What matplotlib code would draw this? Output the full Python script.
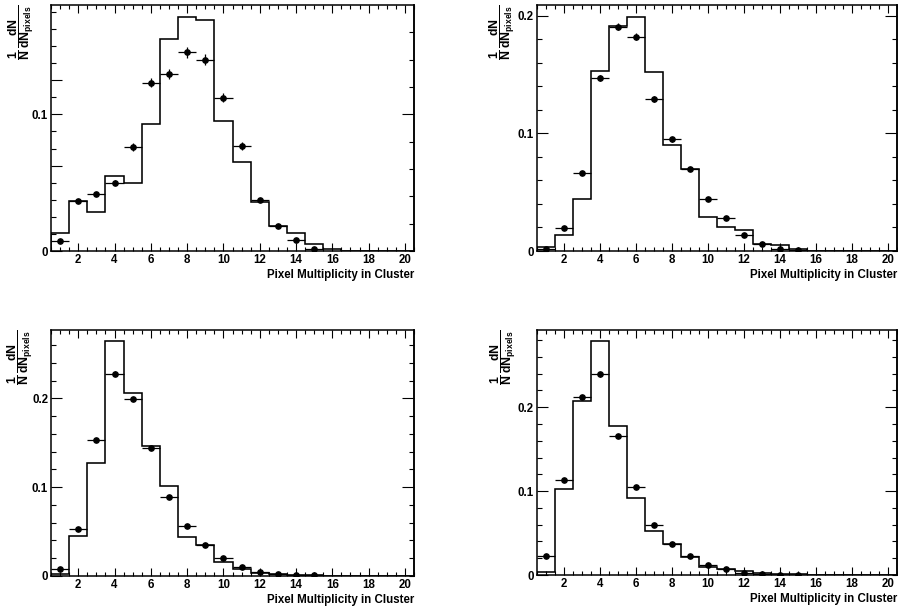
import numpy as np
import matplotlib
matplotlib.use("Agg")
import matplotlib.pyplot as plt
from matplotlib.ticker import FixedLocator, FixedFormatter, MultipleLocator, NullFormatter

plt.rcParams.update({
    "font.family": ["Liberation Sans", "DejaVu Sans"],
    "font.weight": "bold",
    "axes.labelweight": "bold",
    "mathtext.fontset": "custom",
    "mathtext.rm": "Liberation Sans:bold",
    "mathtext.it": "Liberation Sans:bold",
    "mathtext.bf": "Liberation Sans:bold",
    "mathtext.sf": "Liberation Sans:bold",
    "mathtext.default": "rm",
})

# ---- binning: pixel multiplicity 1..20 ----
bin_edges = np.arange(0.5, 21.0, 1.0)
multiplicity = np.arange(1, 16)
x_tick_values = [2, 4, 6, 8, 10, 12, 14, 16, 18, 20]
x_tick_labels = ["2", "4", "6", "8", "10", "12", "14", "16", "18", "20"]
x_title = "Pixel Multiplicity in Cluster"
y_title = r"$\dfrac{1}{N}\,\dfrac{dN}{dN_{pixels}}$"

# ---- simulation (histogram) and measured points, four samples ----
mc_a = [0.0134, 0.0366, 0.0285, 0.0546, 0.0495, 0.0932, 0.1554, 0.1715, 0.1688, 0.0949,
        0.0649, 0.0361, 0.0185, 0.0132, 0.0049, 0.0017, 0.0, 0.0, 0.0, 0.0]
data_a = [0.0071, 0.0366, 0.0417, 0.0500, 0.0763, 0.1232, 0.1295, 0.1454, 0.1398, 0.1122,
          0.0771, 0.0373, 0.0183, 0.0078, 0.0017]
err_a = [0.0010, 0.0015, 0.0018, 0.0020, 0.0030, 0.0035, 0.0038, 0.0042, 0.0040, 0.0035,
         0.0030, 0.0015, 0.0010, 0.0008, 0.0005]

mc_b = [0.0034, 0.0133, 0.0442, 0.1533, 0.1910, 0.1989, 0.1520, 0.0904, 0.0700, 0.0289,
        0.0204, 0.0178, 0.0057, 0.0048, 0.0020, 0.0, 0.0, 0.0, 0.0, 0.0]
data_b = [0.0017, 0.0193, 0.0663, 0.1473, 0.1904, 0.1819, 0.1295, 0.0949, 0.0700, 0.0445,
          0.0278, 0.0139, 0.0062, 0.0020, 0.0009]
err_b = [0.0005, 0.0010, 0.0015, 0.0025, 0.0030, 0.0030, 0.0025, 0.0020, 0.0015, 0.0012,
         0.0010, 0.0008, 0.0005, 0.0004, 0.0003]

mc_c = [0.0019, 0.0447, 0.1270, 0.2647, 0.2060, 0.1466, 0.1011, 0.0444, 0.0346, 0.0154,
        0.0083, 0.0038, 0.0023, 0.0010, 0.0007, 0.0, 0.0, 0.0, 0.0, 0.0]
data_c = [0.0083, 0.0526, 0.1534, 0.2278, 0.1996, 0.1436, 0.0895, 0.0568, 0.0350, 0.0199,
          0.0105, 0.0049, 0.0023, 0.0008, 0.0007]
err_c = [0.0008, 0.0015, 0.0020, 0.0025, 0.0025, 0.0020, 0.0018, 0.0015, 0.0012, 0.0010,
         0.0008, 0.0005, 0.0004, 0.0003, 0.0003]

mc_d = [0.0032, 0.1030, 0.2076, 0.2787, 0.1777, 0.0915, 0.0525, 0.0374, 0.0211, 0.0099,
        0.0076, 0.0048, 0.0028, 0.0012, 0.0008, 0.0, 0.0, 0.0, 0.0, 0.0]
data_d = [0.0227, 0.1131, 0.2123, 0.2390, 0.1661, 0.1044, 0.0594, 0.0370, 0.0227, 0.0120,
          0.0068, 0.0028, 0.0008, 0.0004, 0.0004]
err_d = [0.0012, 0.0020, 0.0025, 0.0025, 0.0022, 0.0018, 0.0015, 0.0012, 0.0010, 0.0008,
         0.0006, 0.0004, 0.0003, 0.0002, 0.0002]

# ---- y-axis tick labels per pad ----
y_labels_a = ["0", "", "0.1", ""]
y_labels_bcd = ["0", "0.1", "0.2"]

W, H = 898, 607
fig = plt.figure(figsize=(W / 100, H / 100), dpi=100)


def pad_rect(left, right, top, bottom):
    return [left / W, 1 - bottom / H, (right - left) / W, (bottom - top) / H]


def draw_pad(rect, mc, data, err, ymax, left_major, left_labels, left_minor,
             right_major, right_minor, title_x):
    ax = fig.add_axes(rect)
    ax.set_xlim(bin_edges[0], bin_edges[-1])
    ax.set_ylim(0, ymax)

    ax.stairs(mc, bin_edges, baseline=0, color="black", lw=1.15)
    ax.errorbar(multiplicity, data, xerr=0.5, yerr=err, fmt="o", color="black",
                ms=3.8, elinewidth=0.9, capsize=0, zorder=3)

    for s in ax.spines.values():
        s.set_linewidth(1.1)

    ax.xaxis.set_major_locator(FixedLocator(x_tick_values))
    ax.xaxis.set_major_formatter(FixedFormatter(x_tick_labels))
    ax.xaxis.set_minor_locator(MultipleLocator(0.5))
    ax.tick_params(axis="x", which="both", direction="in", top=True, bottom=True,
                   labelsize=8.3, pad=2.5)
    ax.tick_params(axis="x", which="major", length=5.5, width=0.8)
    ax.tick_params(axis="x", which="minor", length=3.0, width=0.8)

    ax.yaxis.set_major_locator(FixedLocator(left_major))
    ax.yaxis.set_major_formatter(FixedFormatter(left_labels))
    ax.yaxis.set_minor_locator(FixedLocator(left_minor))
    ax.tick_params(axis="y", which="both", direction="in", left=True, right=False,
                   labelsize=8.3, pad=2)
    ax.tick_params(axis="y", which="major", length=8, width=0.8)
    ax.tick_params(axis="y", which="minor", length=3.8, width=0.8)

    sec = ax.secondary_yaxis("right")
    sec.yaxis.set_major_locator(FixedLocator(right_major))
    sec.yaxis.set_minor_locator(FixedLocator(right_minor))
    sec.yaxis.set_major_formatter(NullFormatter())
    sec.tick_params(which="both", direction="in", width=0.8)
    sec.tick_params(which="major", length=8.5)
    sec.tick_params(which="minor", length=3.8)
    sec.spines["right"].set_linewidth(1.1)

    ax.set_xlabel(x_title, loc="right", fontsize=8.3, labelpad=1.5)
    ax.set_ylabel(y_title, loc="top", fontsize=8.8)
    ax.yaxis.set_label_coords(title_x, 1.0)
    return ax


step_a = np.arange(0, 0.18, 0.0125)
step_b = np.arange(0, 0.21, 0.02)
step_c = np.arange(0, 0.28, 0.02)
step_d = np.arange(0, 0.29, 0.02)

draw_pad(pad_rect(51, 414, 5, 251), mc_a, data_a, err_a, 0.18,
         [0, 0.0625, 0.1, 0.125], y_labels_a, step_a,
         [0.1], np.arange(0, 0.18, 0.02), -0.04)
draw_pad(pad_rect(536.5, 897, 5, 251), mc_b, data_b, err_b, 0.209,
         [0, 0.1, 0.2], y_labels_bcd, step_b,
         [0.1, 0.2], step_b, -0.053)
draw_pad(pad_rect(51, 414, 330, 576), mc_c, data_c, err_c, 0.277,
         [0, 0.1, 0.2], y_labels_bcd, step_c,
         [0.1, 0.2], step_c, -0.045)
draw_pad(pad_rect(536.5, 897, 330, 575), mc_d, data_d, err_d, 0.292,
         [0, 0.1, 0.2], y_labels_bcd, step_d,
         [0.1, 0.2], step_d, -0.05)

fig.savefig("out.png", dpi=100)
